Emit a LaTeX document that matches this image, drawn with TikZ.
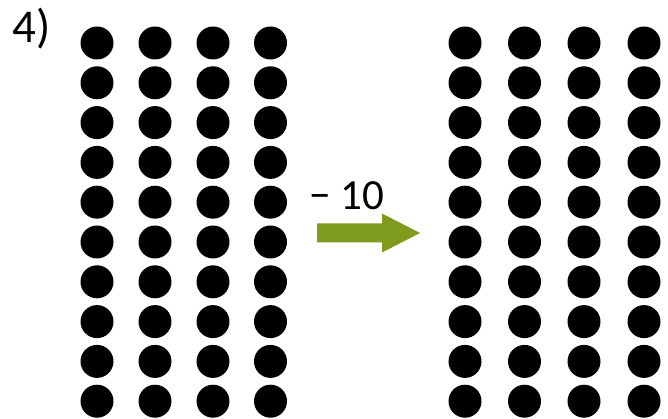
\documentclass[tikz,border=0pt]{standalone}
\usepackage{fontspec}
\setmainfont{Carlito}
\definecolor{olivearrow}{RGB}{127,155,30}

\begin{document}
\begin{tikzpicture}
  [x=1pt,y=-1pt,dot/.style={circle,fill=black,inner sep=0pt,minimum size=33pt},
   label/.style={inner sep=0pt,anchor=base west}]
  \useasboundingbox (0,0) rectangle (668,419);
  \node[label,font=\fontsize{47}{50}\selectfont] (num) at (12,43) {4)};

\foreach \c/\x in {1/97, 2/155, 3/213, 4/270.5}
  \foreach \r in {0,...,9}
    \node[dot] (a\c\r) at (\x,43+39.8*\r) {};

\foreach \c/\x in {1/465, 2/524.5, 3/584, 4/644}
  \foreach \r in {0,...,9}
    \node[dot] (b\c\r) at (\x,43+39.8*\r) {};

  \node[label,font=\fontsize{43}{46}\selectfont] (minus) at (309,210) {− 10};
  \coordinate (tail) at (317,233);
  \fill[olivearrow] (tail) ++(0,-9.5) -- ++(65,0) -- ++(0,-10) -- (420,233)
    -- (382,252.5) -- ++(0,-10) -- ++(-65,0) -- cycle;
\end{tikzpicture}
\end{document}
